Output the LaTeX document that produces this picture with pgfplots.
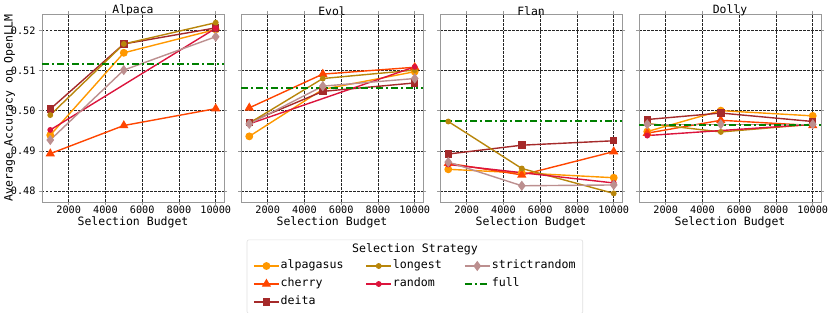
\documentclass[border=0pt]{standalone}
\usepackage{fontspec}
\setmainfont{DejaVu Sans Mono}
\usepackage{pgfplots}
\pgfplotsset{compat=1.18}
\usetikzlibrary{fit}

\definecolor{calpa}{HTML}{FF9800}
\definecolor{ccherry}{HTML}{FF4500}
\definecolor{cdeita}{HTML}{A52A2A}
\definecolor{clong}{HTML}{B8860B}
\definecolor{crand}{HTML}{DC143C}
\definecolor{cstrict}{HTML}{BC8F8F}
\definecolor{cfull}{HTML}{008000}

\pgfplotsset{
  panel/.style={
    scale only axis, width=182pt, height=188pt, anchor=south west,
    xmin=550, xmax=10450, ymin=0.47726, ymax=0.52406,
    xtick={2000,4000,6000,8000,10000}, ytick={0.48,0.49,0.50,0.51,0.52},
    grid=major,
    major grid style={black!85, line width=0.6pt, dash pattern=on 2.5pt off 1.5pt},
    axis line style={gray!80, line width=0.6pt},
    tick style={gray!80, line width=0.6pt}, tick align=outside, major tick length=3pt,
    /pgf/number format/assume math mode=true,
    tick label style={font=\fontsize{10.2}{12}\selectfont},
    xticklabel style={/pgf/number format/1000 sep={}, yshift=3pt},
    yticklabel style={/pgf/number format/.cd, fixed, fixed zerofill, precision=2},
    scaled x ticks=false, scaled y ticks=false,
    title style={font=\fontsize{11.4}{13}\selectfont, yshift=-11.5pt},
    label style={font=\fontsize{11.5}{13}\selectfont},
    xlabel={Selection Budget},
    xlabel style={yshift=3.5pt},
  },
  s alpa/.style={color=calpa, line width=1.4pt, mark=*, mark size=3.2pt, mark options={solid}},
  s cherry/.style={color=ccherry, line width=1.4pt, mark=triangle*, mark size=4pt, mark options={solid}},
  s deita/.style={color=cdeita, line width=1.4pt, mark=square*, mark size=3pt, mark options={solid}},
  s long/.style={color=clong, line width=1.4pt, mark=*, mark size=2.2pt, mark options={solid}},
  s rand/.style={color=crand, line width=1.4pt, mark=*, mark size=2.2pt, mark options={solid}},
  s strict/.style={color=cstrict, line width=1.4pt, mark=diamond*, mark size=4pt, mark options={solid}},
  s full/.style={color=cfull, line width=2pt, dash pattern=on 7pt off 3pt on 2pt off 3pt},
}

\begin{document}
\begin{tikzpicture}
\useasboundingbox (0pt,0pt) rectangle (830pt,313pt);

% ---------------- Alpaca
\begin{axis}[panel, at={(42pt,111pt)}, title={Alpaca},
  ylabel={Average Accuracy on OpenLLM}, ylabel style={yshift=-11pt},
  legend columns=3,
  legend cell align=left,
  legend style={name=leg, at={(2.049,-0.2956)}, anchor=north, draw=none, fill=none,
    font=\fontsize{11.6}{13}\selectfont,
    nodes={inner sep=1pt, text height=8pt, text depth=2.5pt},
    row sep=5.5pt,
    /tikz/every even column/.append style={column sep=21pt}},
  legend image code/.code={\draw[mark repeat=2, mark phase=2, #1] plot coordinates {(0pt,0pt) (12.5pt,0pt) (25pt,0pt)};},
]
\addplot[s alpa, forget plot] coordinates {(1000,0.4939)(5000,0.5144)(10000,0.5202)};
\addplot[s cherry, forget plot] coordinates {(1000,0.4893)(5000,0.4963)(10000,0.5005)};
\addplot[s deita, forget plot] coordinates {(1000,0.5004)(5000,0.5166)(10000,0.5206)};
\addplot[s long, forget plot] coordinates {(1000,0.4989)(5000,0.5166)(10000,0.5219)};
\addplot[s rand, forget plot] coordinates {(1000,0.4952)(10000,0.5205)};
\addplot[s strict, forget plot] coordinates {(1000,0.4927)(5000,0.5101)(10000,0.5184)};
\addplot[s full, forget plot] coordinates {(550,0.5115)(10450,0.5115)};
\addlegendimage{s alpa}\addlegendentry{alpagasus}
\addlegendimage{s long}\addlegendentry{longest}
\addlegendimage{s strict}\addlegendentry{strictrandom}
\addlegendimage{s cherry}\addlegendentry{cherry}
\addlegendimage{s rand}\addlegendentry{random}
\addlegendimage{s full}\addlegendentry{full}
\addlegendimage{s deita}\addlegendentry{deita}
\end{axis}

% ---------------- Evol
\begin{axis}[panel, at={(241pt,111pt)}, title={Evol}, yticklabels={}]
\addplot[s alpa] coordinates {(1000,0.4936)(5000,0.5053)(10000,0.5097)};
\addplot[s cherry] coordinates {(1000,0.5007)(5000,0.5091)(10000,0.5108)};
\addplot[s deita] coordinates {(1000,0.4971)(5000,0.5048)(10000,0.5069)};
\addplot[s long] coordinates {(1000,0.4969)(5000,0.5080)(10000,0.5101)};
\addplot[s rand] coordinates {(1000,0.4967)(10000,0.5109)};
\addplot[s strict] coordinates {(1000,0.4967)(5000,0.5061)(10000,0.5080)};
\addplot[s full] coordinates {(550,0.5057)(10450,0.5057)};
\end{axis}

% ---------------- Flan
\begin{axis}[panel, at={(440pt,111pt)}, title={Flan}, yticklabels={}]
\addplot[s alpa] coordinates {(1000,0.4854)(5000,0.4845)(10000,0.4833)};
\addplot[s cherry] coordinates {(1000,0.4869)(5000,0.4840)(10000,0.4898)};
\addplot[s deita] coordinates {(1000,0.4892)(5000,0.4914)(10000,0.4925)};
\addplot[s long] coordinates {(1000,0.4973)(5000,0.4856)(10000,0.4794)};
\addplot[s rand] coordinates {(1000,0.4866)(10000,0.4820)};
\addplot[s strict] coordinates {(1000,0.4872)(5000,0.4813)(10000,0.4815)};
\addplot[s full] coordinates {(550,0.4973)(10450,0.4973)};
\end{axis}

% ---------------- Dolly
\begin{axis}[panel, at={(639pt,111pt)}, title={Dolly}, yticklabels={}]
\addplot[s alpa] coordinates {(1000,0.4948)(5000,0.5000)(10000,0.4987)};
\addplot[s cherry] coordinates {(1000,0.4944)(5000,0.4976)(10000,0.4963)};
\addplot[s deita] coordinates {(1000,0.4978)(5000,0.4994)(10000,0.4973)};
\addplot[s long] coordinates {(1000,0.4968)(5000,0.4947)(10000,0.4966)};
\addplot[s rand] coordinates {(1000,0.4938)(10000,0.4966)};
\addplot[s strict] coordinates {(1000,0.4966)(5000,0.4966)(10000,0.4966)};
\addplot[s full] coordinates {(550,0.4965)(10450,0.4965)};
\end{axis}

\node[anchor=south, font=\fontsize{11.6}{13}\selectfont, inner sep=1pt] (lt) at ([yshift=1pt]leg.north) {Selection Strategy};
\node[fit=(leg)(lt), draw=gray!25, rounded corners=2pt, inner xsep=3pt, inner ysep=3pt, line width=0.6pt] {};
\end{tikzpicture}
\end{document}
